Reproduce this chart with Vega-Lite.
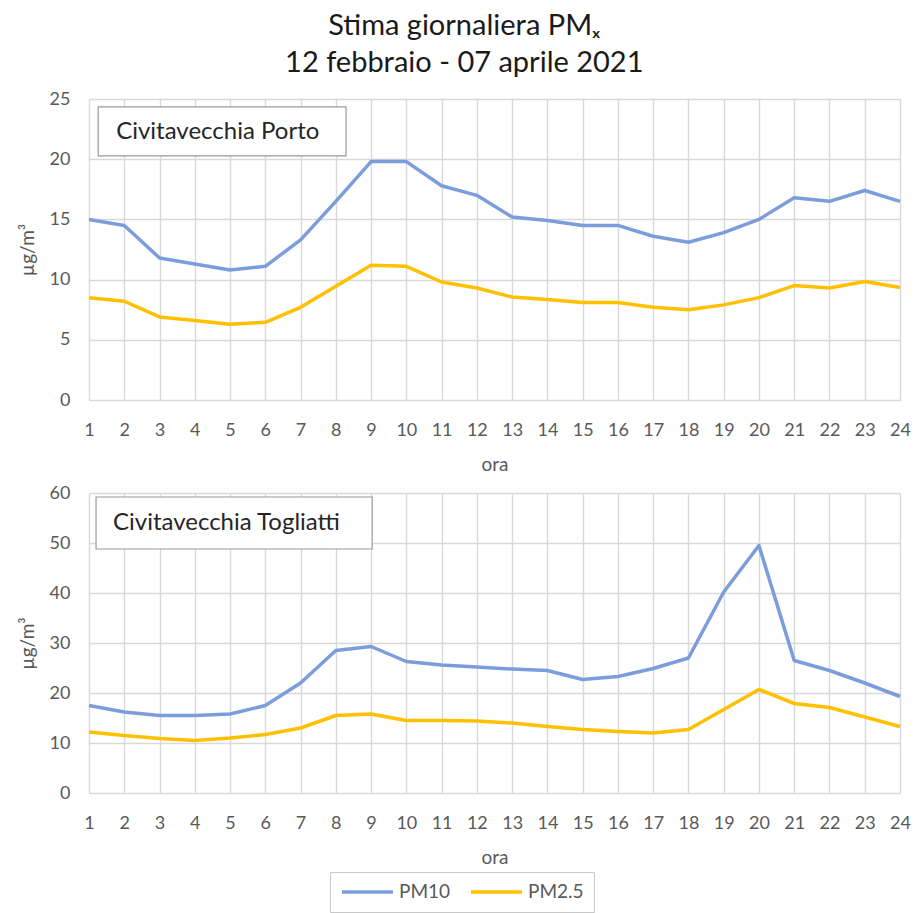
{
  "$schema": "https://vega.github.io/schema/vega-lite/v6.json",
  "background": "white",
  "padding": {"left": 18, "top": 12, "right": 10, "bottom": 0},
  "title": {
    "text": "Stima giornaliera PMₓ",
    "subtitle": "12 febbraio - 07 aprile 2021",
    "anchor": "middle",
    "font": "Lato",
    "fontSize": 29,
    "fontWeight": "normal",
    "color": "#1a1a1a",
    "subtitleFont": "Lato",
    "subtitleFontSize": 29,
    "subtitleColor": "#1a1a1a",
    "subtitlePadding": 8,
    "offset": 12
  },
  "datasets": {
    "pm": [
      {"stazione": "Porto", "ora": 1, "inquinante": "PM10", "valore": 15.0},
      {"stazione": "Porto", "ora": 2, "inquinante": "PM10", "valore": 14.5},
      {"stazione": "Porto", "ora": 3, "inquinante": "PM10", "valore": 11.8},
      {"stazione": "Porto", "ora": 4, "inquinante": "PM10", "valore": 11.3},
      {"stazione": "Porto", "ora": 5, "inquinante": "PM10", "valore": 10.8},
      {"stazione": "Porto", "ora": 6, "inquinante": "PM10", "valore": 11.1},
      {"stazione": "Porto", "ora": 7, "inquinante": "PM10", "valore": 13.3},
      {"stazione": "Porto", "ora": 8, "inquinante": "PM10", "valore": 16.5},
      {"stazione": "Porto", "ora": 9, "inquinante": "PM10", "valore": 19.8},
      {"stazione": "Porto", "ora": 10, "inquinante": "PM10", "valore": 19.8},
      {"stazione": "Porto", "ora": 11, "inquinante": "PM10", "valore": 17.8},
      {"stazione": "Porto", "ora": 12, "inquinante": "PM10", "valore": 17.0},
      {"stazione": "Porto", "ora": 13, "inquinante": "PM10", "valore": 15.2},
      {"stazione": "Porto", "ora": 14, "inquinante": "PM10", "valore": 14.9},
      {"stazione": "Porto", "ora": 15, "inquinante": "PM10", "valore": 14.5},
      {"stazione": "Porto", "ora": 16, "inquinante": "PM10", "valore": 14.5},
      {"stazione": "Porto", "ora": 17, "inquinante": "PM10", "valore": 13.6},
      {"stazione": "Porto", "ora": 18, "inquinante": "PM10", "valore": 13.1},
      {"stazione": "Porto", "ora": 19, "inquinante": "PM10", "valore": 13.9},
      {"stazione": "Porto", "ora": 20, "inquinante": "PM10", "valore": 15.0},
      {"stazione": "Porto", "ora": 21, "inquinante": "PM10", "valore": 16.8},
      {"stazione": "Porto", "ora": 22, "inquinante": "PM10", "valore": 16.5},
      {"stazione": "Porto", "ora": 23, "inquinante": "PM10", "valore": 17.4},
      {"stazione": "Porto", "ora": 24, "inquinante": "PM10", "valore": 16.5},
      {"stazione": "Porto", "ora": 1, "inquinante": "PM2.5", "valore": 8.5},
      {"stazione": "Porto", "ora": 2, "inquinante": "PM2.5", "valore": 8.2},
      {"stazione": "Porto", "ora": 3, "inquinante": "PM2.5", "valore": 6.9},
      {"stazione": "Porto", "ora": 4, "inquinante": "PM2.5", "valore": 6.6},
      {"stazione": "Porto", "ora": 5, "inquinante": "PM2.5", "valore": 6.3},
      {"stazione": "Porto", "ora": 6, "inquinante": "PM2.5", "valore": 6.45},
      {"stazione": "Porto", "ora": 7, "inquinante": "PM2.5", "valore": 7.7},
      {"stazione": "Porto", "ora": 8, "inquinante": "PM2.5", "valore": 9.45},
      {"stazione": "Porto", "ora": 9, "inquinante": "PM2.5", "valore": 11.2},
      {"stazione": "Porto", "ora": 10, "inquinante": "PM2.5", "valore": 11.1},
      {"stazione": "Porto", "ora": 11, "inquinante": "PM2.5", "valore": 9.8},
      {"stazione": "Porto", "ora": 12, "inquinante": "PM2.5", "valore": 9.3},
      {"stazione": "Porto", "ora": 13, "inquinante": "PM2.5", "valore": 8.55},
      {"stazione": "Porto", "ora": 14, "inquinante": "PM2.5", "valore": 8.35},
      {"stazione": "Porto", "ora": 15, "inquinante": "PM2.5", "valore": 8.1},
      {"stazione": "Porto", "ora": 16, "inquinante": "PM2.5", "valore": 8.1},
      {"stazione": "Porto", "ora": 17, "inquinante": "PM2.5", "valore": 7.7},
      {"stazione": "Porto", "ora": 18, "inquinante": "PM2.5", "valore": 7.5},
      {"stazione": "Porto", "ora": 19, "inquinante": "PM2.5", "valore": 7.9},
      {"stazione": "Porto", "ora": 20, "inquinante": "PM2.5", "valore": 8.5},
      {"stazione": "Porto", "ora": 21, "inquinante": "PM2.5", "valore": 9.5},
      {"stazione": "Porto", "ora": 22, "inquinante": "PM2.5", "valore": 9.3},
      {"stazione": "Porto", "ora": 23, "inquinante": "PM2.5", "valore": 9.85},
      {"stazione": "Porto", "ora": 24, "inquinante": "PM2.5", "valore": 9.35},
      {"stazione": "Togliatti", "ora": 1, "inquinante": "PM10", "valore": 17.5},
      {"stazione": "Togliatti", "ora": 2, "inquinante": "PM10", "valore": 16.2},
      {"stazione": "Togliatti", "ora": 3, "inquinante": "PM10", "valore": 15.5},
      {"stazione": "Togliatti", "ora": 4, "inquinante": "PM10", "valore": 15.5},
      {"stazione": "Togliatti", "ora": 5, "inquinante": "PM10", "valore": 15.8},
      {"stazione": "Togliatti", "ora": 6, "inquinante": "PM10", "valore": 17.5},
      {"stazione": "Togliatti", "ora": 7, "inquinante": "PM10", "valore": 22.0},
      {"stazione": "Togliatti", "ora": 8, "inquinante": "PM10", "valore": 28.5},
      {"stazione": "Togliatti", "ora": 9, "inquinante": "PM10", "valore": 29.3},
      {"stazione": "Togliatti", "ora": 10, "inquinante": "PM10", "valore": 26.3},
      {"stazione": "Togliatti", "ora": 11, "inquinante": "PM10", "valore": 25.6},
      {"stazione": "Togliatti", "ora": 12, "inquinante": "PM10", "valore": 25.2},
      {"stazione": "Togliatti", "ora": 13, "inquinante": "PM10", "valore": 24.8},
      {"stazione": "Togliatti", "ora": 14, "inquinante": "PM10", "valore": 24.5},
      {"stazione": "Togliatti", "ora": 15, "inquinante": "PM10", "valore": 22.7},
      {"stazione": "Togliatti", "ora": 16, "inquinante": "PM10", "valore": 23.3},
      {"stazione": "Togliatti", "ora": 17, "inquinante": "PM10", "valore": 24.9},
      {"stazione": "Togliatti", "ora": 18, "inquinante": "PM10", "valore": 27.0},
      {"stazione": "Togliatti", "ora": 19, "inquinante": "PM10", "valore": 40.2},
      {"stazione": "Togliatti", "ora": 20, "inquinante": "PM10", "valore": 49.5},
      {"stazione": "Togliatti", "ora": 21, "inquinante": "PM10", "valore": 26.5},
      {"stazione": "Togliatti", "ora": 22, "inquinante": "PM10", "valore": 24.5},
      {"stazione": "Togliatti", "ora": 23, "inquinante": "PM10", "valore": 22.0},
      {"stazione": "Togliatti", "ora": 24, "inquinante": "PM10", "valore": 19.3},
      {"stazione": "Togliatti", "ora": 1, "inquinante": "PM2.5", "valore": 12.2},
      {"stazione": "Togliatti", "ora": 2, "inquinante": "PM2.5", "valore": 11.5},
      {"stazione": "Togliatti", "ora": 3, "inquinante": "PM2.5", "valore": 10.9},
      {"stazione": "Togliatti", "ora": 4, "inquinante": "PM2.5", "valore": 10.5},
      {"stazione": "Togliatti", "ora": 5, "inquinante": "PM2.5", "valore": 11.0},
      {"stazione": "Togliatti", "ora": 6, "inquinante": "PM2.5", "valore": 11.7},
      {"stazione": "Togliatti", "ora": 7, "inquinante": "PM2.5", "valore": 13.0},
      {"stazione": "Togliatti", "ora": 8, "inquinante": "PM2.5", "valore": 15.5},
      {"stazione": "Togliatti", "ora": 9, "inquinante": "PM2.5", "valore": 15.8},
      {"stazione": "Togliatti", "ora": 10, "inquinante": "PM2.5", "valore": 14.5},
      {"stazione": "Togliatti", "ora": 11, "inquinante": "PM2.5", "valore": 14.5},
      {"stazione": "Togliatti", "ora": 12, "inquinante": "PM2.5", "valore": 14.4},
      {"stazione": "Togliatti", "ora": 13, "inquinante": "PM2.5", "valore": 14.0},
      {"stazione": "Togliatti", "ora": 14, "inquinante": "PM2.5", "valore": 13.3},
      {"stazione": "Togliatti", "ora": 15, "inquinante": "PM2.5", "valore": 12.7},
      {"stazione": "Togliatti", "ora": 16, "inquinante": "PM2.5", "valore": 12.3},
      {"stazione": "Togliatti", "ora": 17, "inquinante": "PM2.5", "valore": 12.0},
      {"stazione": "Togliatti", "ora": 18, "inquinante": "PM2.5", "valore": 12.7},
      {"stazione": "Togliatti", "ora": 19, "inquinante": "PM2.5", "valore": 16.7},
      {"stazione": "Togliatti", "ora": 20, "inquinante": "PM2.5", "valore": 20.7},
      {"stazione": "Togliatti", "ora": 21, "inquinante": "PM2.5", "valore": 17.9},
      {"stazione": "Togliatti", "ora": 22, "inquinante": "PM2.5", "valore": 17.1},
      {"stazione": "Togliatti", "ora": 23, "inquinante": "PM2.5", "valore": 15.2},
      {"stazione": "Togliatti", "ora": 24, "inquinante": "PM2.5", "valore": 13.3}
    ]
  },
  "vconcat": [
    {
      "width": 811,
      "height": 301,
      "layer": [
        {
          "data": {"name": "pm"},
          "transform": [{"filter": "datum.stazione === 'Porto'"}],
          "mark": {"type": "line", "strokeWidth": 3.5, "strokeJoin": "round"},
          "encoding": {
            "x": {"field": "ora", "type": "quantitative", "title": "ora",
                  "scale": {"domain": [1, 24], "nice": false, "zero": false},
                  "axis": {"values": [1,2,3,4,5,6,7,8,9,10,11,12,13,14,15,16,17,18,19,20,21,22,23,24], "tickCount": 30, "labelOverlap": false}},
            "y": {"field": "valore", "type": "quantitative", "title": "µg/m³",
                  "scale": {"domain": [0, 25], "nice": false},
                  "axis": {"values": [0, 5, 10, 15, 20, 25]}},
            "color": {"field": "inquinante", "type": "nominal", "title": null,
                      "scale": {"domain": ["PM10", "PM2.5"], "range": ["#7c9ddb", "#ffc000"]},
                      "legend": {"orient": "none", "legendX": 241, "legendY": 773, "direction": "horizontal"}}
          }
        },
        {
          "data": {"values": [{"etichetta": "Civitavecchia Porto"}]},
          "mark": {"type": "rect", "fill": "white", "stroke": "#9a9a9a", "strokeWidth": 1.2},
          "encoding": {
            "x": {"datum": 1.26, "type": "quantitative"},
            "x2": {"datum": 8.29},
            "y": {"datum": 24.34, "type": "quantitative"},
            "y2": {"datum": 20.27}
          }
        },
        {
          "data": {"values": [{"etichetta": "Civitavecchia Porto"}]},
          "mark": {"type": "text", "align": "left", "baseline": "middle", "font": "Lato", "fontSize": 24, "color": "#262626"},
          "encoding": {
            "x": {"datum": 1.77, "type": "quantitative"},
            "y": {"datum": 22.3, "type": "quantitative"},
            "text": {"field": "etichetta"}
          }
        }
      ]
    },
    {
      "width": 811,
      "height": 300,
      "layer": [
        {
          "data": {"name": "pm"},
          "transform": [{"filter": "datum.stazione === 'Togliatti'"}],
          "mark": {"type": "line", "strokeWidth": 3.5, "strokeJoin": "round"},
          "encoding": {
            "x": {"field": "ora", "type": "quantitative", "title": "ora",
                  "scale": {"domain": [1, 24], "nice": false, "zero": false},
                  "axis": {"values": [1,2,3,4,5,6,7,8,9,10,11,12,13,14,15,16,17,18,19,20,21,22,23,24], "tickCount": 30, "labelOverlap": false}},
            "y": {"field": "valore", "type": "quantitative", "title": "µg/m³",
                  "scale": {"domain": [0, 60], "nice": false},
                  "axis": {"values": [0, 10, 20, 30, 40, 50, 60]}},
            "color": {"field": "inquinante", "type": "nominal", "title": null,
                      "scale": {"domain": ["PM10", "PM2.5"], "range": ["#7c9ddb", "#ffc000"]}}
          }
        },
        {
          "data": {"values": [{"etichetta": "Civitavecchia Togliatti"}]},
          "mark": {"type": "rect", "fill": "white", "stroke": "#9a9a9a", "strokeWidth": 1.2},
          "encoding": {
            "x": {"datum": 1.2, "type": "quantitative"},
            "x2": {"datum": 9.03},
            "y": {"datum": 59.2, "type": "quantitative"},
            "y2": {"datum": 48.8}
          }
        },
        {
          "data": {"values": [{"etichetta": "Civitavecchia Togliatti"}]},
          "mark": {"type": "text", "align": "left", "baseline": "middle", "font": "Lato", "fontSize": 24, "color": "#262626"},
          "encoding": {
            "x": {"datum": 1.68, "type": "quantitative"},
            "y": {"datum": 54.0, "type": "quantitative"},
            "text": {"field": "etichetta"}
          }
        }
      ]
    }
  ],
  "spacing": 10,
  "resolve": {"scale": {"x": "independent", "y": "independent", "color": "shared"}, "legend": {"color": "shared"}},
  "config": {
    "view": {"stroke": null},
    "axis": {
      "labelFont": "Lato",
      "labelFontSize": 18,
      "labelColor": "#595959",
      "titleFont": "Lato",
      "titleFontSize": 19,
      "titleFontWeight": "normal",
      "titleColor": "#595959",
      "gridColor": "#d9d9d9",
      "gridWidth": 1.4,
      "domain": false,
      "ticks": false,
      "labelOverlap": false
    },
    "axisX": {"labelPadding": 21, "titlePadding": 16, "labelFlush": false},
    "axisY": {"labelPadding": 19, "titlePadding": 12},
    "legend": {
      "symbolType": "stroke",
      "symbolStrokeWidth": 3.5,
      "symbolSize": 2600,
      "clipHeight": 20,
      "labelFont": "Lato",
      "labelFontSize": 19,
      "labelColor": "#595959",
      "labelOffset": 4,
      "columnPadding": 18,
      "strokeColor": "#c8c8c8",
      "padding": 10
    }
  }
}
